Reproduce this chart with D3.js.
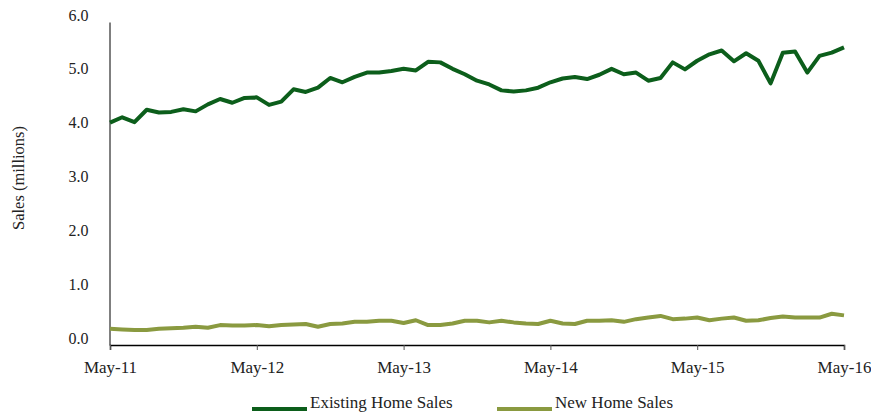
<!DOCTYPE html>
<html>
<head>
<meta charset="utf-8">
<script src="https://cdn.jsdelivr.net/npm/d3@7"></script>
<style>
  body { margin: 0; background: #fff; }
  svg text { font-family: "Liberation Serif", "DejaVu Serif", serif; fill: #222; }
</style>
</head>
<body>
<svg id="chart" width="871" height="414"></svg>
<script>
// monthly, May-11 .. May-16 (61 months)
var existingSales = [4.13, 4.23, 4.14, 4.37, 4.32, 4.33, 4.38, 4.34, 4.47, 4.57, 4.50, 4.59,
  4.60, 4.46, 4.52, 4.75, 4.70, 4.78, 4.96, 4.88, 4.98, 5.06, 5.06, 5.09,
  5.13, 5.10, 5.26, 5.25, 5.13, 5.03, 4.91, 4.84, 4.73, 4.71, 4.73, 4.78,
  4.88, 4.95, 4.98, 4.94, 5.02, 5.13, 5.03, 5.06, 4.91, 4.96, 5.25, 5.12,
  5.28, 5.40, 5.47, 5.27, 5.42, 5.28, 4.86, 5.43, 5.45, 5.06, 5.37, 5.43, 5.53];
var newSales = [0.30, 0.29, 0.28, 0.28, 0.30, 0.31, 0.32, 0.34, 0.32, 0.37, 0.36, 0.36,
  0.37, 0.35, 0.37, 0.38, 0.39, 0.34, 0.39, 0.40, 0.43, 0.43, 0.45, 0.45,
  0.41, 0.46, 0.37, 0.37, 0.40, 0.45, 0.45, 0.42, 0.45, 0.42, 0.40, 0.39,
  0.45, 0.40, 0.39, 0.45, 0.45, 0.46, 0.43, 0.48, 0.51, 0.54, 0.48, 0.49,
  0.51, 0.46, 0.49, 0.51, 0.45, 0.46, 0.50, 0.53, 0.51, 0.51, 0.51, 0.58, 0.55];
var xTickLabels = ["May-11", "May-12", "May-13", "May-14", "May-15", "May-16"];
var yTicks = [0, 1, 2, 3, 4, 5, 6];
var seriesNames = ["Existing Home Sales", "New Home Sales"];
var seriesColors = ["#0c5e1b", "#8a9a40"];

var svg = d3.select("#chart");

var x = d3.scaleLinear().domain([0, 60]).range([110, 844]);
var y = d3.scaleLinear().domain([0, 6]).range([345, 22]);

// y axis (line only, labels left)
var yAxis = d3.axisLeft(y).tickValues(yTicks).tickSize(0).tickPadding(21)
  .tickFormat(d3.format(".1f"));
var gy = svg.append("g").attr("transform", "translate(109.5,0)").call(yAxis);
gy.select(".domain").attr("stroke", "#000").attr("stroke-width", 1);
gy.selectAll("text").style("font-size", "16px").attr("dy", "-0.12em");

// x axis
var xAxis = d3.axisBottom(x).tickValues([0, 12, 24, 36, 48, 60]).tickSizeOuter(0)
  .tickSize(5).tickPadding(11)
  .tickFormat(function(d, i) { return xTickLabels[i]; });
var gx = svg.append("g").attr("transform", "translate(0,345)").call(xAxis);
gx.select(".domain").attr("stroke", "#000").attr("stroke-width", 1.5);
gx.selectAll(".tick line").attr("stroke", "#555");
gx.selectAll("text").style("font-size", "17px");

// y title
svg.append("text")
  .attr("transform", "translate(24,178) rotate(-90)")
  .attr("text-anchor", "middle")
  .style("font-size", "16.5px")
  .text("Sales (millions)");

var line = d3.line()
  .x(function(d, i) { return x(i); })
  .y(function(d) { return y(d); });

[newSales, existingSales].forEach(function(s, k) {
  svg.append("path")
    .datum(s)
    .attr("fill", "none")
    .attr("stroke", k === 0 ? seriesColors[1] : seriesColors[0])
    .attr("stroke-width", 4)
    .attr("stroke-linejoin", "round")
    .attr("d", line);
});

// legend
var legendX = [252, 497];
seriesNames.forEach(function(name, k) {
  var g = svg.append("g").attr("transform", "translate(" + legendX[k] + ",409)");
  g.append("line").attr("x1", 0).attr("x2", 55).attr("y1", 0).attr("y2", 0)
    .attr("stroke", seriesColors[k]).attr("stroke-width", 4);
  g.append("text").attr("x", 58).attr("y", 0).attr("dy", "-0.08em")
    .style("font-size", "17px").text(name);
});
</script>
</body>
</html>
